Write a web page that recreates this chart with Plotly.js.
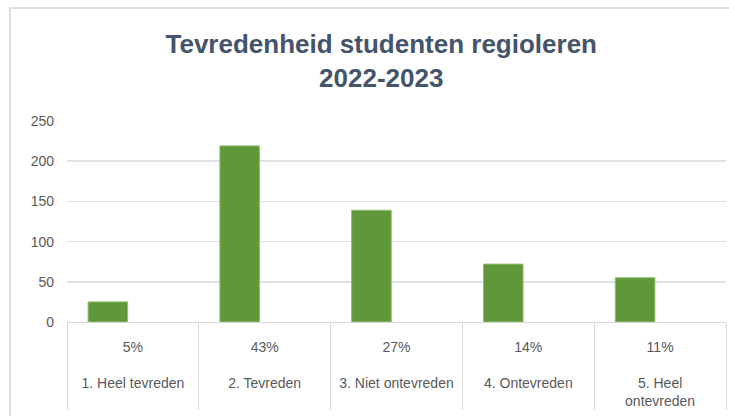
<!DOCTYPE html>
<html>
<head>
<meta charset="utf-8">
<script src="https://cdn.plot.ly/plotly-3.0.1.min.js"></script>
<style>
  html, body { margin: 0; padding: 0; background: #fff; }
  #plot { width: 729px; height: 416px; }
</style>
</head>
<body>
<div id="plot"></div>
<script>
// data
const categories = ['1. Heel tevreden', '2. Tevreden', '3. Niet ontevreden', '4. Ontevreden', '5. Heel ontevreden'];
const labelLines = ['1. Heel tevreden', '2. Tevreden', '3. Niet ontevreden', '4. Ontevreden', '5. Heel<br>ontevreden'];
const percentages = ['5%', '43%', '27%', '14%', '11%'];
const counts = [25, 219, 139, 72, 55];

const tickText = categories.map((c, i) => percentages[i] + '<br><br>' + labelLines[i]);

const textColor = '#595959';
const gridColor = '#dde1e8';

const plotData = [{
    type: 'bar',
    x: categories,
    y: counts,
    width: 0.3,
    offset: -0.34,
    marker: {color: '#5e9838', line: {color: '#8dbd6e', width: 1}},
    hoverinfo: 'x+y'
}];

const layout = {
    width: 729,
    height: 416,
    margin: {l: 67, r: 3, t: 121, b: 94},
    paper_bgcolor: '#ffffff',
    plot_bgcolor: '#ffffff',
    showlegend: false,
    font: {family: 'Liberation Sans, Arial, sans-serif', color: textColor, size: 14},
    title: {
        text: 'Tevredenheid studenten regioleren<br>2022-2023',
        font: {family: 'Liberation Sans, Arial, sans-serif', size: 26, color: '#44546a', weight: 'bold'},
        x: 0.523,
        xref: 'container',
        xanchor: 'center',
        y: 0.872,
        yref: 'container',
        yanchor: 'middle'
    },
    xaxis: {
        type: 'category',
        tickvals: categories,
        ticktext: tickText,
        tickson: 'boundaries',
        ticks: 'outside',
        ticklen: 87,
        tickwidth: 1,
        tickcolor: '#d9d9d9',
        ticklabelstandoff: 12,
        showline: true,
        linecolor: '#d9d9d9',
        linewidth: 1,
        showgrid: false,
        tickangle: 0,
        tickfont: {size: 14, color: textColor}
    },
    yaxis: {
        range: [0, 250],
        dtick: 50,
        showgrid: true,
        gridcolor: gridColor,
        gridwidth: 1.5,
        zeroline: false,
        showline: false,
        ticks: '',
        ticklabelstandoff: 12,
        tickfont: {size: 14, color: textColor}
    },
    shapes: [{
        type: 'rect',
        xref: 'paper',
        yref: 'paper',
        x0: -0.0865,
        x1: 1.2,
        y0: -1,
        y1: 1.562,
        line: {color: '#dcdfe4', width: 2},
        fillcolor: 'rgba(0,0,0,0)'
    }]
};

Plotly.newPlot('plot', plotData, layout, {displayModeBar: false, staticPlot: true});
</script>
</body>
</html>
